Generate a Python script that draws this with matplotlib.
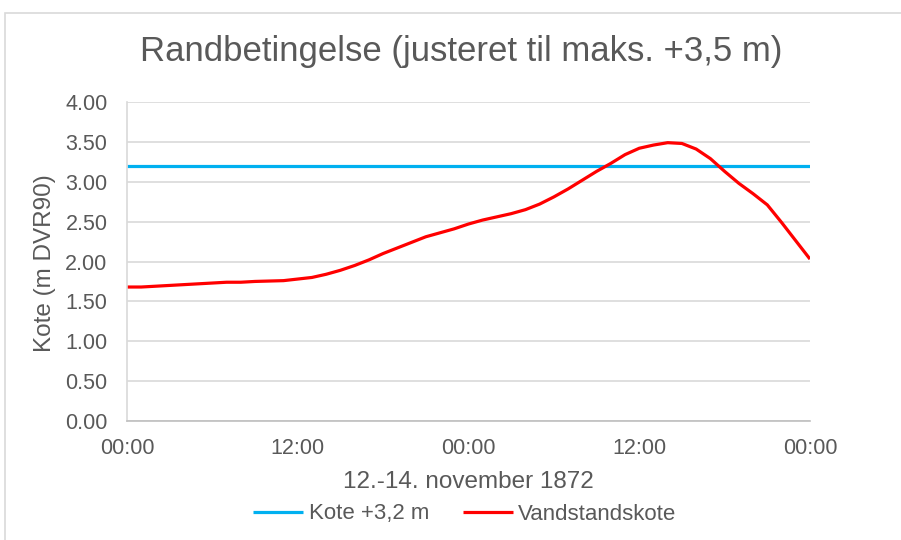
import matplotlib.pyplot as plt
from matplotlib.patches import Rectangle

# timer fra 12. nov 00:00 (aflæst time for time)
hours = [0, 1, 2, 3, 4, 5, 6, 7, 8, 9, 10, 11, 12,
         13, 14, 15, 16, 17, 18, 19, 20, 21, 22, 23, 24,
         25, 26, 27, 28, 29, 30, 31, 32, 33, 34, 35, 36,
         37, 38, 39, 40, 41, 42, 43, 44, 45, 46, 47, 48]
vandstand = [1.68, 1.68, 1.69, 1.70, 1.71, 1.72, 1.73, 1.74, 1.74, 1.75, 1.755, 1.76, 1.78,
             1.80, 1.84, 1.89, 1.95, 2.02, 2.10, 2.17, 2.24, 2.31, 2.36, 2.41, 2.47,
             2.52, 2.56, 2.60, 2.65, 2.72, 2.81, 2.91, 3.02, 3.13, 3.23, 3.34, 3.42,
             3.46, 3.49, 3.48, 3.41, 3.29, 3.13, 2.98, 2.85, 2.71, 2.49, 2.26, 2.03]
kote_niveau = 3.2
tick_hours = [0, 12, 24, 36, 48]
tick_labels = ["00:00", "12:00", "00:00", "12:00", "00:00"]

txt = "#595959"
plt.rcParams['font.family'] = ['Liberation Sans', 'DejaVu Sans']

fig = plt.figure(figsize=(9.01, 5.4), dpi=100)
fig.patches.append(Rectangle((5 / 901, -0.01), 1.0, 1 - 13 / 540 + 0.01,
                             transform=fig.transFigure, fill=False,
                             edgecolor="#D9D9D9", linewidth=1.2))
ax = fig.add_axes([127 / 901, 1 - 421 / 540, (810 - 127) / 901, (421 - 102) / 540])

ax.plot([hours[0], hours[-1]], [kote_niveau, kote_niveau], color="#00B0F0", lw=2.3,
        label="Kote +3,2 m", solid_capstyle="butt")
ax.plot(hours, vandstand, color="#FF0000", lw=2.3, label="Vandstandskote",
        solid_capstyle="butt", solid_joinstyle="round")

ax.set_xlim(0, 48)
ax.set_ylim(0, 4)
ax.set_yticks([i * 0.5 for i in range(9)])
ax.set_yticklabels([f"{i * 0.5:.2f}" for i in range(9)])
ax.set_xticks(tick_hours)
ax.set_xticklabels(tick_labels)
ax.tick_params(length=0, labelsize=15.5, colors=txt)
ax.tick_params(axis="y", pad=14)
ax.tick_params(axis="x", pad=12)
ax.grid(axis="y", color="#D9D9D9", lw=1.2)
ax.set_axisbelow(True)
for s in ["top", "right"]:
    ax.spines[s].set_visible(False)
ax.spines["left"].set_color("#D9D9D9")
ax.spines["left"].set_linewidth(1.2)
ax.spines["bottom"].set_color("#BFBFBF")
ax.spines["bottom"].set_linewidth(1.2)

fig.text(45 / 901, 1 - 263 / 540, "Kote (m DVR90)", rotation=90,
         ha="center", va="center", fontsize=17.5, color=txt)
fig.text(468 / 901, 1 - 482 / 540, "12.-14. november 1872",
         ha="center", va="center", fontsize=17.5, color=txt)
fig.text(461 / 901, 1 - 52 / 540, "Randbetingelse (justeret til maks. +3,5 m)",
         ha="center", va="center", fontsize=25, color=txt)

leg = fig.legend(loc="center", bbox_to_anchor=(465 / 901, 1 - 514 / 540), ncol=2,
                 frameon=False, fontsize=16, handlelength=2.25, columnspacing=1.5,
                 handletextpad=0.25, borderpad=0, borderaxespad=0)
for t in leg.get_texts():
    t.set_color(txt)

fig.savefig("out.png", dpi=100)
